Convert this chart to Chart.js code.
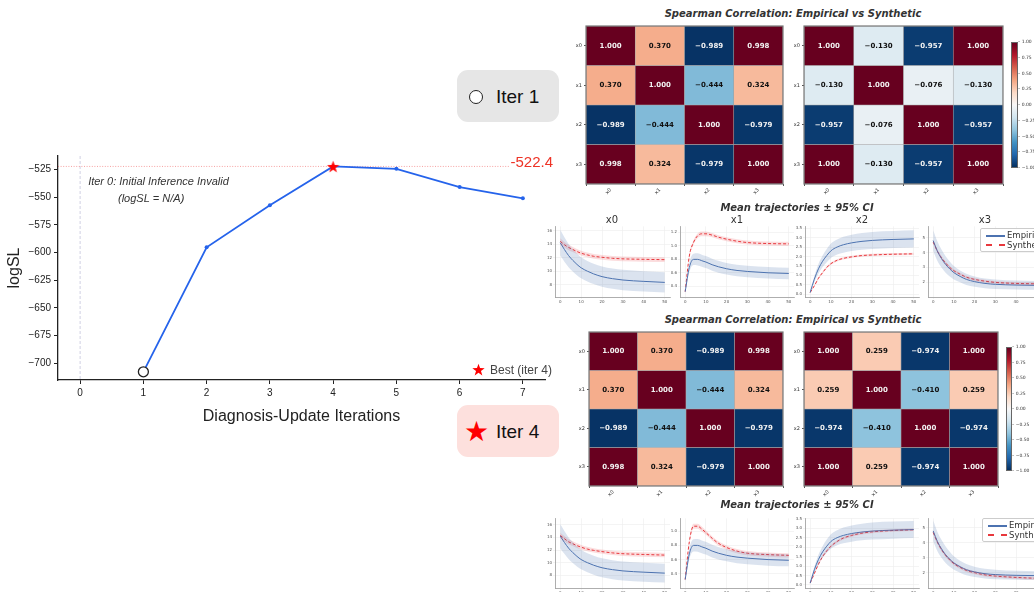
<!DOCTYPE html>
<html lang="en">
<head>
<meta charset="UTF-8">
<title>logSL over diagnosis-update iterations</title>
<style>
  html, body { margin: 0; padding: 0; background: #fff; }
  body { width: 1034px; height: 592px; position: relative; overflow: hidden; font-family: "Liberation Sans", Arial, sans-serif; }
  .box { position: absolute; }
  .badge { position: absolute; left: 457px; width: 102px; height: 52px; border-radius: 11px; }
  .badge .txt { position: absolute; left: 39px; top: 16px; font-size: 19px; color: #111; }
  .ttl { position: absolute; transform: translateX(-50%); white-space: nowrap; font: italic bold 10px "DejaVu Sans", sans-serif; color: #333; }
  .sub { position: absolute; transform: translateX(-50%); font: 10px "DejaVu Sans", sans-serif; color: #333; }
  .cbar { position: absolute; border: 1px solid #666; box-sizing: border-box;
    background: linear-gradient(to bottom, #67001f, #b2182b, #d6604d, #f4a582, #fddbc7, #f7f7f7, #d1e5f0, #92c5de, #4393c3, #2166ac, #053061); }
  .cbl { position: absolute; font: 4.5px "DejaVu Sans", sans-serif; color: #333; white-space: nowrap; }
  .leg { position: absolute; border: 1px solid #ccc; border-radius: 2px; background: rgba(255,255,255,0.9); width: 80px; height: 22px; }
  .leg div { position: absolute; left: 26px; font: 8.5px "DejaVu Sans", sans-serif; color: #333; }
  .leg span { position: absolute; left: 5px; width: 19px; }
</style>
</head>
<body>

<div class="box" style="left:0;top:140px;width:560px;height:300px"><canvas id="mainChart"></canvas></div>

<div class="badge" style="top:70px;background:#e6e6e6">
  <span style="position:absolute;left:12px;top:20px;width:12px;height:12px;border:1.5px solid #222;border-radius:50%;background:#fff"></span>
  <span class="txt">Iter 1</span>
</div>
<div class="badge" style="top:405px;background:#fde0dd">
  <span style="position:absolute;left:7px;top:10px;font:28px 'DejaVu Sans';color:#f00">★</span>
  <span class="txt">Iter 4</span>
</div>

<div class="ttl" style="left:793px;top:8px">Spearman Correlation: Empirical vs Synthetic</div>
<div class="box" style="left:562px;top:20px;width:225px;height:186px"><canvas id="hmEmp1"></canvas></div>
<div class="box" style="left:784px;top:20px;width:223px;height:186px"><canvas id="hmSyn1"></canvas></div>
<div class="cbar" style="left:1011px;top:42px;width:7px;height:126px"></div>
<div id="cbLab1"></div>

<div class="ttl" style="left:797px;top:202px">Mean trajectories &#177; 95% CI</div>
<div class="sub" style="left:612px;top:214px">x0</div>
<div class="sub" style="left:737px;top:214px">x1</div>
<div class="sub" style="left:862px;top:214px">x2</div>
<div class="sub" style="left:985px;top:214px">x3</div>
<div class="box" style="left:542px;top:223px;width:131px;height:83px"><canvas id="t1x0"></canvas></div>
<div class="box" style="left:667px;top:223px;width:130px;height:83px"><canvas id="t1x1"></canvas></div>
<div class="box" style="left:792px;top:223px;width:130px;height:83px"><canvas id="t1x2"></canvas></div>
<div class="box" style="left:915px;top:223px;width:130px;height:83px"><canvas id="t1x3"></canvas></div>
<div class="leg" style="left:980px;top:228px">
  <span style="top:6px;border-top:2px solid #4c72b0"></span><div style="top:1px">Empirical</div>
  <span style="top:15px;border-top:2px dashed #e8383d"></span><div style="top:11px">Synthetic</div>
</div>

<div class="ttl" style="left:793px;top:314px">Spearman Correlation: Empirical vs Synthetic</div>
<div class="box" style="left:565px;top:326px;width:222px;height:182px"><canvas id="hmEmp4"></canvas></div>
<div class="box" style="left:784px;top:326px;width:218px;height:182px"><canvas id="hmSyn4"></canvas></div>
<div class="cbar" style="left:1006px;top:347px;width:6px;height:124px"></div>
<div id="cbLab4"></div>

<div class="ttl" style="left:797px;top:499px">Mean trajectories &#177; 95% CI</div>
<div class="box" style="left:542px;top:515px;width:131px;height:82px"><canvas id="t4x0"></canvas></div>
<div class="box" style="left:667px;top:515px;width:130px;height:82px"><canvas id="t4x1"></canvas></div>
<div class="box" style="left:792px;top:515px;width:130px;height:82px"><canvas id="t4x2"></canvas></div>
<div class="box" style="left:915px;top:515px;width:130px;height:82px"><canvas id="t4x3"></canvas></div>
<div class="leg" style="left:982px;top:518px">
  <span style="top:6px;border-top:2px solid #4c72b0"></span><div style="top:1px">Empirical</div>
  <span style="top:15px;border-top:2px dashed #e8383d"></span><div style="top:11px">Synthetic</div>
</div>

<script src="https://cdn.jsdelivr.net/npm/chart.js"></script>
<script>
  // main curve
  const iterations = [1, 2, 3, 4, 5, 6, 7];
  const logSL = [-707.6, -595.4, -557.5, -522.4, -524.6, -541.0, -551.2];
  const firstValidIter = 1;
  const bestIter = 4;
  const bestLogSL = -522.4;
  const xTicks = [0, 1, 2, 3, 4, 5, 6, 7];
  const yTicks = [-700, -675, -650, -625, -600, -575, -550, -525];

  // correlation matrices
  const varNames = ['x0', 'x1', 'x2', 'x3'];
  const corrEmpirical = [
    [1.000, 0.370, -0.989, 0.998],
    [0.370, 1.000, -0.444, 0.324],
    [-0.989, -0.444, 1.000, -0.979],
    [0.998, 0.324, -0.979, 1.000]
  ];
  const corrSynIter1 = [
    [1.000, -0.130, -0.957, 1.000],
    [-0.130, 1.000, -0.076, -0.130],
    [-0.957, -0.076, 1.000, -0.957],
    [1.000, -0.130, -0.957, 1.000]
  ];
  const corrSynIter4 = [
    [1.000, 0.259, -0.974, 1.000],
    [0.259, 1.000, -0.410, 0.259],
    [-0.974, -0.410, 1.000, -0.974],
    [1.000, 0.259, -0.974, 1.000]
  ];
  const cbarTicks = ['1.00', '0.75', '0.50', '0.25', '0.00', '\u22120.25', '\u22120.50', '\u22120.75', '\u22121.00'];

  // mean trajectories (mean and 95% CI half width)
  const trajT = [0, 2, 4, 6, 8, 10, 13, 16, 20, 25, 30, 40, 50];
  const empX0 = [14.2, 13.2, 12.3, 11.6, 11.0, 10.5, 10.0, 9.6, 9.2, 8.9, 8.7, 8.5, 8.35];
  const empX0ci = [1.9, 1.8, 1.7, 1.65, 1.6, 1.55, 1.5, 1.5, 1.5, 1.5, 1.5, 1.5, 1.5];
  const empX1 = [0.32, 0.68, 0.80, 0.80, 0.78, 0.76, 0.72, 0.69, 0.66, 0.635, 0.62, 0.60, 0.59];
  const empX1ci = [0.03, 0.07, 0.085, 0.09, 0.09, 0.09, 0.09, 0.088, 0.085, 0.085, 0.085, 0.085, 0.085];
  const empX2 = [0.1, 0.8, 1.35, 1.75, 2.05, 2.3, 2.5, 2.62, 2.72, 2.8, 2.85, 2.9, 2.93];
  const empX2ci = [0.05, 0.15, 0.25, 0.3, 0.35, 0.38, 0.4, 0.42, 0.43, 0.44, 0.45, 0.45, 0.45];
  const empX3 = [4.8, 4.1, 3.6, 3.2, 2.9, 2.65, 2.4, 2.2, 2.05, 1.93, 1.87, 1.82, 1.8];
  const empX3ci = [0.7, 0.65, 0.6, 0.55, 0.5, 0.45, 0.4, 0.38, 0.35, 0.33, 0.32, 0.3, 0.3];

  const syn1X0 = [14.4, 13.9, 13.5, 13.2, 12.9, 12.65, 12.4, 12.2, 12.05, 11.9, 11.82, 11.75, 11.7];
  const syn1X0ci = [0.45, 0.4, 0.4, 0.38, 0.36, 0.35, 0.35, 0.35, 0.35, 0.35, 0.35, 0.35, 0.35];
  const syn1X1 = [0.32, 0.85, 1.05, 1.15, 1.18, 1.18, 1.16, 1.13, 1.10, 1.07, 1.05, 1.035, 1.03];
  const syn1X1ci = [0.01, 0.03, 0.03, 0.035, 0.035, 0.035, 0.03, 0.03, 0.03, 0.03, 0.03, 0.03, 0.03];
  const syn1X2 = [0.1, 0.45, 0.85, 1.15, 1.42, 1.62, 1.8, 1.9, 1.98, 2.05, 2.08, 2.12, 2.14];
  const syn1X2ci = [0.02, 0.04, 0.05, 0.06, 0.06, 0.06, 0.06, 0.06, 0.06, 0.06, 0.06, 0.06, 0.06];
  const syn1X3 = [4.7, 4.1, 3.65, 3.3, 3.0, 2.78, 2.55, 2.35, 2.2, 2.08, 2.0, 1.93, 1.9];
  const syn1X3ci = [0.12, 0.12, 0.11, 0.1, 0.1, 0.1, 0.1, 0.1, 0.1, 0.1, 0.1, 0.1, 0.1];

  const syn4X0 = [14.3, 13.8, 13.3, 13.0, 12.7, 12.45, 12.15, 11.95, 11.75, 11.55, 11.42, 11.3, 11.2];
  const syn4X0ci = [0.45, 0.4, 0.4, 0.38, 0.36, 0.35, 0.35, 0.35, 0.35, 0.35, 0.35, 0.35, 0.35];
  const syn4X1 = [0.32, 0.85, 1.07, 1.07, 1.03, 0.98, 0.90, 0.83, 0.77, 0.72, 0.69, 0.67, 0.66];
  const syn4X1ci = [0.01, 0.03, 0.035, 0.035, 0.035, 0.03, 0.03, 0.03, 0.03, 0.03, 0.03, 0.03, 0.03];
  const syn4X2 = [0.1, 0.6, 1.1, 1.5, 1.8, 2.05, 2.3, 2.48, 2.62, 2.74, 2.81, 2.88, 2.92];
  const syn4X2ci = [0.02, 0.05, 0.06, 0.07, 0.07, 0.07, 0.07, 0.07, 0.07, 0.07, 0.07, 0.07, 0.07];
  const syn4X3 = [4.7, 4.05, 3.55, 3.15, 2.85, 2.6, 2.35, 2.15, 2.0, 1.85, 1.77, 1.68, 1.62];
  const syn4X3ci = [0.12, 0.12, 0.11, 0.1, 0.1, 0.1, 0.1, 0.1, 0.1, 0.1, 0.1, 0.1, 0.1];

  const trajXTicks = [0, 10, 20, 30, 40, 50];
  const ticksX0 = [8, 10, 12, 14, 16];
  const ticksX1top = [0.4, 0.6, 0.8, 1.0, 1.2];
  const ticksX1bot = [0.4, 0.6, 0.8, 1.0];
  const ticksX2 = [0, 0.5, 1.0, 1.5, 2.0, 2.5, 3.0, 3.5];
  const ticksX3 = [2, 3, 4, 5];

  Chart.defaults.animation = false;
  Chart.defaults.font.family = '"Liberation Sans", Arial, sans-serif';
  Chart.defaults.plugins.legend.display = false;
  Chart.defaults.plugins.tooltip.enabled = false;

  const BLUE = '#2563eb';
  const minus = v => String(v).replace('-', '\u2212');

  function starCanvas(size, color) {
    const c = document.createElement('canvas');
    c.width = c.height = size;
    const g = c.getContext('2d');
    const cx = size / 2, cy = size / 2 + size * 0.05, R = size / 2, r = R * 0.4;
    g.fillStyle = color;
    g.beginPath();
    for (let k = 0; k < 10; k++) {
      const a = -Math.PI / 2 + k * Math.PI / 5;
      const rr = k % 2 ? r : R;
      g.lineTo(cx + rr * Math.cos(a), cy + rr * Math.sin(a));
    }
    g.closePath();
    g.fill();
    return c;
  }
  const starImg = starCanvas(13, '#f00');

  // ---------- main chart ----------
  const mainDecor = {
    id: 'mainDecor',
    beforeDatasetsDraw(chart) {
      const { ctx, chartArea: a, scales: { x, y } } = chart;
      ctx.save();
      const x0 = x.getPixelForValue(0);
      ctx.strokeStyle = '#c4c4dc';
      ctx.lineWidth = 0.8;
      ctx.setLineDash([3, 2]);
      ctx.beginPath(); ctx.moveTo(x0, a.top); ctx.lineTo(x0, a.bottom); ctx.stroke();
      const yb = y.getPixelForValue(bestLogSL);
      ctx.strokeStyle = 'rgba(235,60,60,0.6)';
      ctx.setLineDash([1, 1.6]);
      ctx.beginPath(); ctx.moveTo(a.left, yb); ctx.lineTo(a.right - 35, yb); ctx.stroke();
      ctx.restore();
    },
    afterDraw(chart) {
      const { ctx, chartArea: a, scales: { x, y } } = chart;
      ctx.save();
      const yb = y.getPixelForValue(bestLogSL);
      ctx.font = '15px "Liberation Sans", Arial, sans-serif';
      ctx.fillStyle = '#ee3326';
      ctx.textAlign = 'right';
      ctx.textBaseline = 'alphabetic';
      ctx.fillText(bestLogSL.toFixed(1), a.right + 8, yb + 0.5);

      const x0 = x.getPixelForValue(0);
      ctx.font = 'italic 11px "Liberation Sans", Arial, sans-serif';
      ctx.fillStyle = '#333';
      ctx.textAlign = 'left';
      ctx.fillText('Iter 0: Initial Inference Invalid', x0 + 8, a.top + 29);
      ctx.textAlign = 'center';
      ctx.fillText('(logSL = N/A)', x0 + 71, a.top + 46);

      ctx.drawImage(starImg, a.right - 73, a.bottom - 17);
      ctx.font = '12px "Liberation Sans", Arial, sans-serif';
      ctx.fillStyle = '#444';
      ctx.textAlign = 'left';
      ctx.fillText('Best (iter ' + bestIter + ')', a.right - 55, a.bottom - 6);
      ctx.restore();
    }
  };

  new Chart(document.getElementById('mainChart'), {
    type: 'line',
    data: {
      datasets: [{
        data: iterations.map((it, i) => ({ x: it, y: logSL[i] })),
        borderColor: BLUE,
        borderWidth: 1.8,
        tension: 0,
        pointStyle: c => iterations[c.dataIndex] === bestIter ? starImg : 'circle',
        pointRadius: c => iterations[c.dataIndex] === firstValidIter ? 5 : 2,
        pointBackgroundColor: c => iterations[c.dataIndex] === firstValidIter ? '#fff' : BLUE,
        pointBorderColor: c => iterations[c.dataIndex] === firstValidIter ? '#222' : BLUE,
        pointBorderWidth: c => iterations[c.dataIndex] === firstValidIter ? 1.3 : 0
      }]
    },
    options: {
      responsive: true,
      maintainAspectRatio: false,
      layout: { padding: { top: 16, right: 15 } },
      scales: {
        x: {
          type: 'linear', min: -0.35, max: 7.35,
          afterBuildTicks: s => { s.ticks = xTicks.map(v => ({ value: v })); },
          afterFit: s => { s.height = 60; },
          ticks: { font: { size: 10 }, color: '#222', padding: 3 },
          grid: { drawOnChartArea: false, tickLength: 4, color: '#222' },
          border: { color: '#222', width: 1.3 },
          title: { display: true, text: 'Diagnosis-Update Iterations', font: { size: 16 }, color: '#222', padding: { top: 0, bottom: 14 } }
        },
        y: {
          min: -715, max: -513,
          afterBuildTicks: s => { s.ticks = yTicks.map(v => ({ value: v })); },
          afterFit: s => { s.width = 58; },
          ticks: { font: { size: 10 }, color: '#222', padding: 3, callback: v => minus(v) },
          grid: { drawOnChartArea: false, tickLength: 4, color: '#222' },
          border: { color: '#222', width: 1.3 },
          title: { display: true, text: 'logSL', font: { size: 16 }, color: '#222', padding: { top: 5, bottom: 0 } }
        }
      }
    },
    plugins: [mainDecor]
  });

  // ---------- heatmaps ----------
  const rdbu = ['#053061', '#2166ac', '#4393c3', '#92c5de', '#d1e5f0', '#f7f7f7', '#fddbc7', '#f4a582', '#d6604d', '#b2182b', '#67001f'];
  function rdbuColor(v) {
    const p = (Math.max(-1, Math.min(1, v)) + 1) / 2 * 10;
    const i = Math.min(9, Math.floor(p)), f = p - i;
    const h = s => [1, 3, 5].map(k => parseInt(s.substr(k, 2), 16));
    const a = h(rdbu[i]), b = h(rdbu[i + 1]);
    return 'rgb(' + a.map((c, k) => Math.round(c + (b[k] - c) * f)).join(',') + ')';
  }

  function heatmap(id, matrix, yAxisWidth) {
    const cellText = {
      id: 'cellText',
      afterDatasetsDraw(chart) {
        const { ctx, chartArea: a, scales: { x, y } } = chart;
        ctx.save();
        ctx.font = 'bold 7px "DejaVu Sans", sans-serif';
        ctx.textAlign = 'center';
        ctx.textBaseline = 'middle';
        matrix.forEach((row, i) => row.forEach((v, j) => {
          ctx.fillStyle = Math.abs(v) > 0.6 ? '#f2f2f2' : '#111';
          ctx.fillText(minus(v.toFixed(3)), x.getPixelForValue(j), y.getPixelForValue(i + 0.5));
        }));
        ctx.strokeStyle = '#777';
        ctx.lineWidth = 1.2;
        ctx.strokeRect(a.left, a.top, a.right - a.left, a.bottom - a.top);
        ctx.restore();
      }
    };
    new Chart(document.getElementById(id), {
      type: 'bar',
      data: {
        labels: varNames,
        datasets: matrix.map(row => ({
          data: row.map(() => 1),
          backgroundColor: row.map(rdbuColor),
          borderColor: 'rgba(125,125,125,0.6)',
          borderWidth: 0.6,
          borderSkipped: false,
          barPercentage: 1,
          categoryPercentage: 1
        }))
      },
      options: {
        responsive: true,
        maintainAspectRatio: false,
        layout: { padding: { top: 6, right: 4 } },
        scales: {
          x: {
            stacked: true,
            afterFit: s => { s.height = 22; },
            ticks: { font: { size: 5, family: '"DejaVu Sans"' }, color: '#333', minRotation: 45, maxRotation: 45, padding: 1 },
            grid: { drawOnChartArea: false, tickLength: 2, color: '#555' },
            border: { display: false }
          },
          y: {
            stacked: true, min: 0, max: 4, reverse: true,
            afterBuildTicks: s => { s.ticks = varNames.map((n, i) => ({ value: i + 0.5 })); },
            afterFit: s => { s.width = yAxisWidth; },
            ticks: { font: { size: 5, family: '"DejaVu Sans"' }, color: '#333', padding: 2, callback: v => varNames[Math.floor(v)] },
            grid: { drawOnChartArea: false, tickLength: 2, color: '#555' },
            border: { display: false }
          }
        }
      },
      plugins: [cellText]
    });
  }

  heatmap('hmEmp1', corrEmpirical, 24);
  heatmap('hmSyn1', corrSynIter1, 20);
  heatmap('hmEmp4', corrEmpirical, 24);
  heatmap('hmSyn4', corrSynIter4, 20);

  function cbarLabels(el, left, top, height) {
    cbarTicks.forEach((t, i) => {
      const d = document.createElement('div');
      d.className = 'cbl';
      d.style.left = left + 'px';
      d.style.top = (top + i * height / (cbarTicks.length - 1) - 3) + 'px';
      d.textContent = '\u2013 ' + t;
      el.appendChild(d);
    });
  }
  cbarLabels(document.getElementById('cbLab1'), 1018, 42, 126);
  cbarLabels(document.getElementById('cbLab4'), 1012, 347, 124);

  // ---------- trajectories ----------
  function traj(id, emp, empCi, syn, synCi, yMin, yMax, yTickVals, dec) {
    const pts = (m, c, s) => trajT.map((t, i) => ({ x: t, y: m[i] + s * c[i] }));
    const base = { pointRadius: 0, cubicInterpolationMode: 'monotone', borderWidth: 0, fill: false };
    new Chart(document.getElementById(id), {
      type: 'line',
      data: {
        datasets: [
          { ...base, data: pts(emp, empCi, -1) },
          { ...base, data: pts(emp, empCi, 1), fill: '-1', backgroundColor: 'rgba(76,114,176,0.2)' },
          { ...base, data: pts(syn, synCi, -1) },
          { ...base, data: pts(syn, synCi, 1), fill: '-1', backgroundColor: 'rgba(232,56,61,0.17)' },
          { ...base, data: pts(emp, empCi, 0), borderWidth: 1, borderColor: '#4c72b0' },
          { ...base, data: pts(syn, synCi, 0), borderWidth: 1, borderColor: '#e8383d', borderDash: [3, 2] }
        ]
      },
      options: {
        responsive: true,
        maintainAspectRatio: false,
        layout: { padding: { top: 3, right: 3 } },
        scales: {
          x: {
            type: 'linear', min: -2.5, max: 52.5,
            afterBuildTicks: s => { s.ticks = trajXTicks.map(v => ({ value: v })); },
            afterFit: s => { s.height = 9; },
            ticks: { font: { size: 4, family: '"DejaVu Sans"' }, color: '#555', padding: 1, autoSkip: false, maxRotation: 0 },
            grid: { color: '#ececec', lineWidth: 0.6, tickLength: 2 },
            border: { color: '#999', width: 0.8 }
          },
          y: {
            min: yMin, max: yMax,
            afterBuildTicks: s => { s.ticks = yTickVals.map(v => ({ value: v })); },
            afterFit: s => { s.width = 13; },
            ticks: { font: { size: 4, family: '"DejaVu Sans"' }, color: '#555', padding: 1, autoSkip: false, callback: v => v.toFixed(dec) },
            grid: { color: '#ececec', lineWidth: 0.6, tickLength: 2 },
            border: { color: '#999', width: 0.8 }
          }
        }
      }
    });
  }

  traj('t1x0', empX0, empX0ci, syn1X0, syn1X0ci, 6.2, 16.6, ticksX0, 0);
  traj('t1x1', empX1, empX1ci, syn1X1, syn1X1ci, 0.24, 1.29, ticksX1top, 1);
  traj('t1x2', empX2, empX2ci, syn1X2, syn1X2ci, -0.14, 3.59, ticksX2, 1);
  traj('t1x3', empX3, empX3ci, syn1X3, syn1X3ci, 1.02, 5.75, ticksX3, 0);

  traj('t4x0', empX0, empX0ci, syn4X0, syn4X0ci, 6.0, 17.0, ticksX0, 0);
  traj('t4x1', empX1, empX1ci, syn4X1, syn4X1ci, 0.2, 1.18, ticksX1bot, 1);
  traj('t4x2', empX2, empX2ci, syn4X2, syn4X2ci, -0.16, 3.52, ticksX2, 1);
  traj('t4x3', empX3, empX3ci, syn4X3, syn4X3ci, 0.97, 5.64, ticksX3, 0);
</script>
</body>
</html>
